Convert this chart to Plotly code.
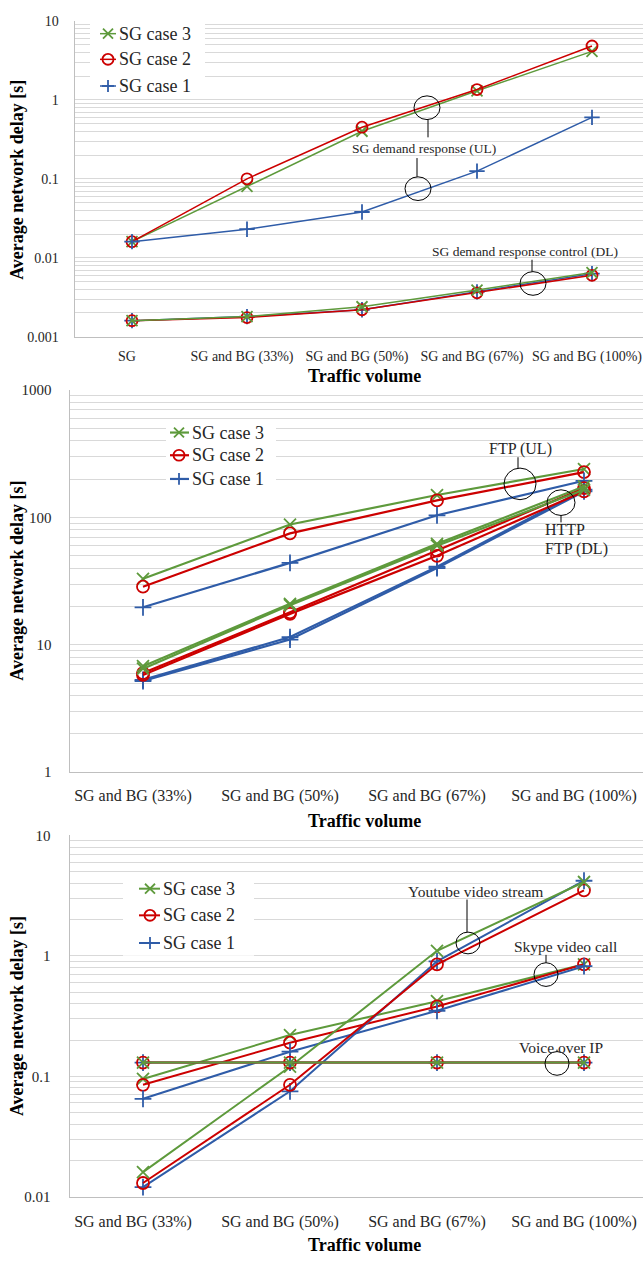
import plotly.graph_objects as go

W, H = 643, 1261

# ---------------- data ----------------
cats1 = ["SG", "SG and BG (33%)", "SG and BG (50%)", "SG and BG (67%)", "SG and BG (100%)"]
ul_case1 = [0.016, 0.023, 0.038, 0.125, 0.6]
ul_case2 = [0.016, 0.1, 0.45, 1.35, 4.8]
ul_case3 = [0.016, 0.08, 0.4, 1.3, 4.1]
dl_case1 = [0.0016, 0.0018, 0.0022, 0.0037, 0.0063]
dl_case2 = [0.0016, 0.00175, 0.0022, 0.0036, 0.006]
dl_case3 = [0.0016, 0.0018, 0.0024, 0.0039, 0.0065]

cats2 = ["SG and BG (33%)", "SG and BG (50%)", "SG and BG (67%)", "SG and BG (100%)"]
ftp_ul_case1 = [19.7, 44, 104, 194]
ftp_ul_case2 = [28.6, 75, 136, 227]
ftp_ul_case3 = [33, 88, 150, 240]
http_case1 = [5.3, 11.5, 41, 165]
http_case2 = [6.0, 18, 55, 170]
http_case3 = [6.8, 21, 62, 175]
ftp_dl_case1 = [5.2, 11, 40, 160]
ftp_dl_case2 = [5.8, 17.5, 50, 160]
ftp_dl_case3 = [6.5, 20.5, 60, 165]

cats3 = ["SG and BG (33%)", "SG and BG (50%)", "SG and BG (67%)", "SG and BG (100%)"]
yt_case1 = [0.012, 0.075, 0.9, 4.2]
yt_case2 = [0.013, 0.085, 0.85, 3.5]
yt_case3 = [0.016, 0.12, 1.1, 4.1]
sk_case1 = [0.065, 0.16, 0.35, 0.82]
sk_case2 = [0.085, 0.19, 0.38, 0.85]
sk_case3 = [0.095, 0.22, 0.42, 0.85]
voip_case1 = [0.13, 0.13, 0.13, 0.13]
voip_case2 = [0.13, 0.13, 0.13, 0.13]
voip_case3 = [0.13, 0.13, 0.13, 0.13]

legend_names = ["SG case 3", "SG case 2", "SG case 1"]

GREEN = "#5e9a3c"
RED = "#cc0000"
BLUE = "#2f5ca8"
FONT = "Liberation Serif"
GRID = "#d9d9d9"
TXT = "#262626"

def PX(x):
    return x / W

def PY(y):
    return 1 - y / H

fig = go.Figure()

styles = {
    3: dict(name=legend_names[0], color=GREEN, symbol="x-thin"),
    2: dict(name=legend_names[1], color=RED, symbol="circle-open"),
    1: dict(name=legend_names[2], color=BLUE, symbol="cross-thin"),
}

def add(cats, vals, case, xa, ya, lw, ms):
    s = styles[case]
    fig.add_trace(go.Scatter(
        x=cats, y=vals, mode="lines+markers", name=s["name"],
        xaxis=xa, yaxis=ya,
        line=dict(color=s["color"], width=lw),
        marker=dict(symbol=s["symbol"], size=ms, color=s["color"],
                    line=dict(color=s["color"], width=1.8)),
        showlegend=False,
    ))

# chart 1
add(cats1, ul_case3, 3, "x", "y", 1.5, 11)
add(cats1, ul_case2, 2, "x", "y", 1.5, 11)
add(cats1, ul_case1, 1, "x", "y", 1.5, 11)
add(cats1, dl_case1, 1, "x", "y", 1.5, 11)
add(cats1, dl_case2, 2, "x", "y", 1.5, 11)
add(cats1, dl_case3, 3, "x", "y", 1.5, 11)

# chart 2
add(cats2, ftp_ul_case3, 3, "x2", "y2", 2.2, 12)
add(cats2, ftp_ul_case2, 2, "x2", "y2", 2.2, 12)
add(cats2, ftp_ul_case1, 1, "x2", "y2", 2.2, 12)
add(cats2, ftp_dl_case1, 1, "x2", "y2", 2.2, 12)
add(cats2, http_case1, 1, "x2", "y2", 2.2, 12)
add(cats2, ftp_dl_case2, 2, "x2", "y2", 2.2, 12)
add(cats2, http_case2, 2, "x2", "y2", 2.2, 12)
add(cats2, ftp_dl_case3, 3, "x2", "y2", 2.2, 12)
add(cats2, http_case3, 3, "x2", "y2", 2.2, 12)

# chart 3
add(cats3, sk_case3, 3, "x3", "y3", 2, 12)
add(cats3, sk_case2, 2, "x3", "y3", 2, 12)
add(cats3, sk_case1, 1, "x3", "y3", 2, 12)
add(cats3, yt_case1, 1, "x3", "y3", 2, 12)
add(cats3, yt_case2, 2, "x3", "y3", 2, 12)
add(cats3, yt_case3, 3, "x3", "y3", 2, 12)
add(cats3, voip_case1, 1, "x3", "y3", 2, 12)
add(cats3, voip_case2, 2, "x3", "y3", 2, 12)
add(cats3, voip_case3, 3, "x3", "y3", 2, 12)

def log_ticks(lo, hi, labels):
    vals, text = [], []
    for e in range(lo, hi):
        for m in range(1, 10):
            vals.append(m * 10.0 ** e)
            text.append(labels.get(e, "") if m == 1 else "")
    vals.append(10.0 ** hi)
    text.append(labels.get(hi, ""))
    return vals, text

def yaxis(lo, hi, labels, top, bottom, anchor, fs, standoff):
    tv, tt = log_ticks(lo, hi, labels)
    return dict(type="log", range=[lo, hi], domain=[PY(bottom), PY(top)],
                tickvals=tv, ticktext=tt, showgrid=True, gridcolor=GRID, gridwidth=1,
                showline=True, linecolor="#bfbfbf", linewidth=1, ticks="",
                ticklabelstandoff=standoff, anchor=anchor, zeroline=False,
                tickfont=dict(family=FONT, size=fs, color=TXT))

def xaxis(left, spacing, anchor, standoff, shift, fs):
    right_units = (W - left) / spacing - 0.5
    return dict(domain=[PX(left), 1.0], range=[-0.5, right_units], anchor=anchor,
                showgrid=False, showline=True, linecolor="#bfbfbf", linewidth=1,
                ticks="", ticklabelstandoff=standoff, ticklabelshift=shift,
                zeroline=False, tickfont=dict(family=FONT, size=fs, color=TXT))

fig.update_layout(
    width=W, height=H, margin=dict(l=0, r=0, t=0, b=0),
    paper_bgcolor="white", plot_bgcolor="white", showlegend=False,
    font=dict(family=FONT, color=TXT),
    xaxis=xaxis(74.5, 115, "y", 6, -5, 14),
    yaxis=yaxis(-3, 1, {-3: "0.001", -2: "0.01", -1: "0.1", 0: "1", 1: "10"}, 13, 333, "x", 14, 12),
    xaxis2=xaxis(69.5, 147, "y2", 9, -10, 16),
    yaxis2=yaxis(0, 3, {0: "1", 1: "10", 2: "100", 3: "1000"}, 387, 774, "x2", 15, 14),
    xaxis3=xaxis(69.5, 147, "y3", 10, -10, 16),
    yaxis3=yaxis(-2, 1, {-2: "0.01", -1: "0.1", 0: "1", 1: "10"}, 838, 1204, "x3", 15, 15),
)

shapes = []
anns = []

def circle(cx, cy, rx, ry, color="black", width=1):
    shapes.append(dict(type="circle", xref="paper", yref="paper",
                       x0=PX(cx - rx), x1=PX(cx + rx), y0=PY(cy + ry), y1=PY(cy - ry),
                       line=dict(color=color, width=width)))

def seg(x0, y0, x1, y1, color="black", width=1):
    shapes.append(dict(type="line", xref="paper", yref="paper",
                       x0=PX(x0), x1=PX(x1), y0=PY(y0), y1=PY(y1),
                       line=dict(color=color, width=width)))

def rect(x0, y0, x1, y1):
    shapes.append(dict(type="rect", xref="paper", yref="paper",
                       x0=PX(x0), x1=PX(x1), y0=PY(y1), y1=PY(y0),
                       fillcolor="white", line=dict(width=0)))

def text(t, x, y, size, bold=False, angle=0, xanchor="center", color=None):
    anns.append(dict(text=("<b>%s</b>" % t) if bold else t, xref="paper", yref="paper",
                     x=PX(x), y=PY(y), xanchor=xanchor, yanchor="middle",
                     showarrow=False, textangle=angle,
                     font=dict(family=FONT, size=size,
                               color=color or ("black" if bold else TXT))))

def legend_block(box, mx, lx0, lx1, tx, rows, lw, fs):
    rect(*box)
    for case, ry, name in zip((3, 2, 1), rows, legend_names):
        col = styles[case]["color"]
        seg(lx0, ry, lx1, ry, col, lw)
        if case == 3:
            seg(mx - 5, ry - 5, mx + 5, ry + 5, col, 1.8)
            seg(mx - 5, ry + 5, mx + 5, ry - 5, col, 1.8)
        elif case == 2:
            circle(mx, ry, 5.5, 5.5, col, 1.8)
        else:
            seg(mx - 6, ry, mx + 6, ry, col, 1.8)
            seg(mx, ry - 6, mx, ry + 6, col, 1.8)
        text(name, tx, ry, fs, xanchor="left")

# legends (drawn manually so the serif font applies)
legend_block((90, 13, 205, 91), 108, 100, 116, 117, (26, 52, 79), 1.5, 18)
legend_block((166, 417, 276, 489), 179, 170, 189, 190, (430, 453, 477), 2.2, 18)
legend_block((123, 880, 254, 960), 150, 139, 160, 161, (892, 919, 947), 2, 18)

# chart 1 callouts
circle(427, 101, 13, 12); seg(428, 113, 428, 131)
circle(418, 183, 13, 12); seg(417, 152, 417, 171)
circle(533, 279, 13, 12); seg(532, 255, 532, 267)
# chart 2 callouts
circle(520, 482, 16, 16); seg(518, 455, 518, 466)
circle(561, 501, 14, 13); seg(561, 514, 561, 521)
# chart 3 callouts
circle(468, 947, 12, 11); seg(467, 903, 467, 936)
circle(546, 979, 12, 12); seg(546, 959, 546, 967)
circle(557, 1069, 12, 12); seg(557, 1055, 557, 1057)

text("SG demand response (UL)", 424, 142, 13.5)
text("SG demand response control (DL)", 525, 247, 13.5)
text("FTP (UL)", 520, 447, 16)
text("HTTP", 543, 528, 16, xanchor="left")
text("FTP (DL)", 543, 548, 16, xanchor="left")
text("Youtube video stream", 475, 895, 15.5)
text("Skype video call", 565, 951, 15.5)
text("Voice over IP", 561, 1053, 15.5)

for yc in (174, 580, 1021):
    text("Average network delay [s]", 17, yc, 18, bold=True, angle=-90)
for yc in (373, 823, 1253):
    text("Traffic volume", 364, yc, 18, bold=True)

fig.update_layout(shapes=shapes, annotations=anns)

fig.write_html("out.html", config={"displayModeBar": False},
               post_script="document.body.style.margin='0';")
